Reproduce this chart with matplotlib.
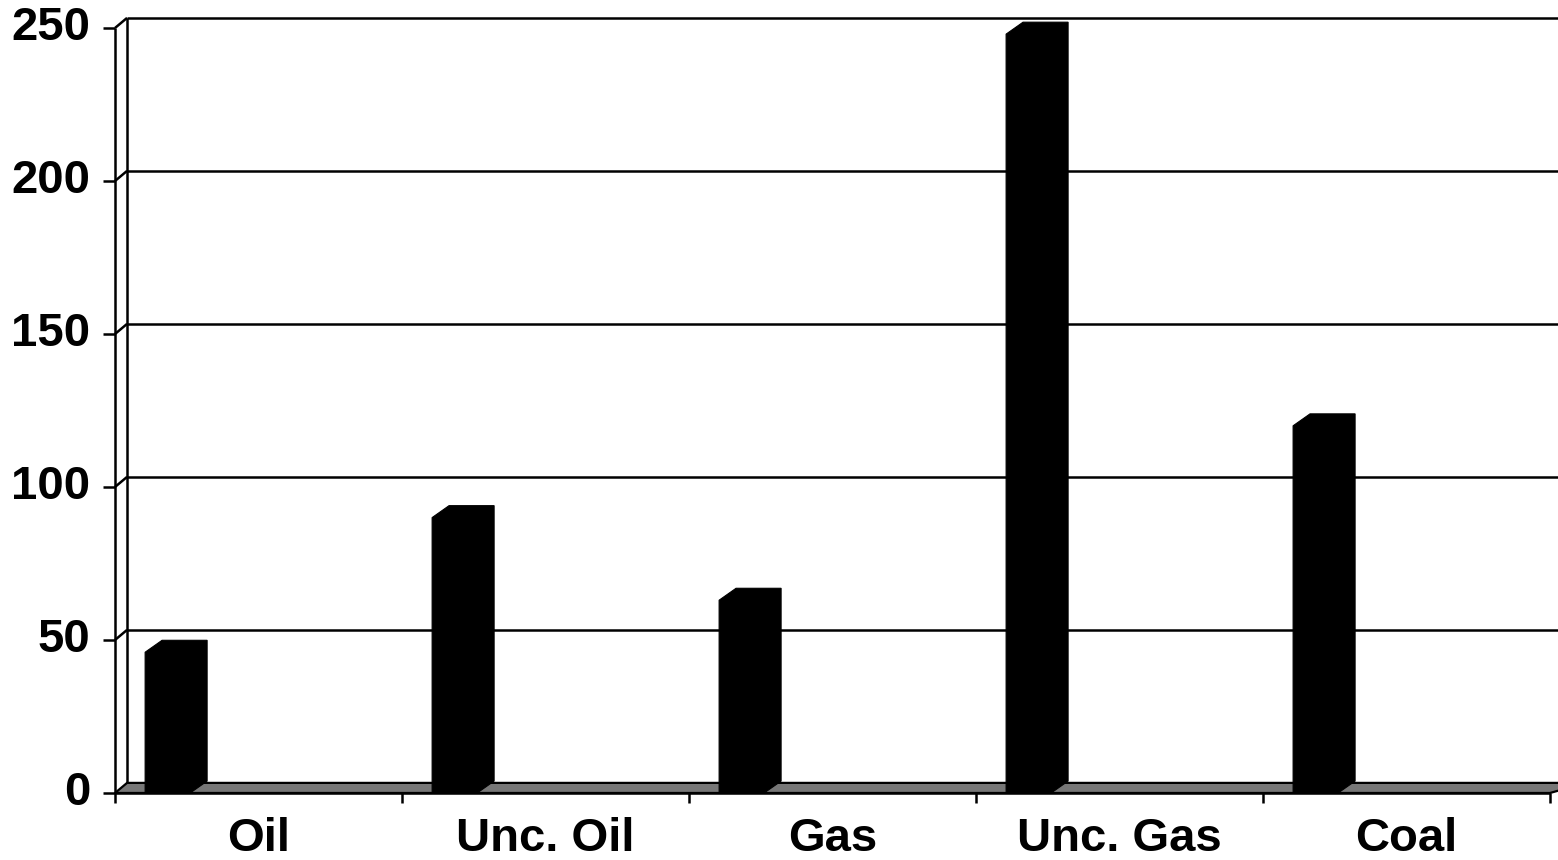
import matplotlib
matplotlib.use('Agg')
import matplotlib.pyplot as plt

categories = ['Oil', 'Unc. Oil', 'Gas', 'Unc. Gas', 'Coal']
values = [46, 90, 63, 248, 120]
yticks = [0, 50, 100, 150, 200, 250]

# 3D look (data units): wall depth and bar depth offsets
wall_dx, wall_dy = 0.042, 3.3
bar_dx, bar_dy = 0.059, 3.9
bar_left, bar_w = 0.105, 0.157

fig = plt.figure(figsize=(15.58, 8.6), dpi=100)
ax = fig.add_axes([0, 0, 1, 1])
ax.set_xlim(-0.4007, 5.028)
ax.set_ylim(-21.9, 259.15)
ax.axis('off')

n = len(categories)
xmax = 5.1
line_kw = dict(color='black', lw=1.8, solid_capstyle='butt')
font_kw = dict(fontsize=34, fontweight='bold', family='Liberation Sans')

# floor
ax.fill([0, n, n + wall_dx * 3, wall_dx],
        [0, 0, wall_dy, wall_dy], facecolor='#777777', edgecolor='black', lw=1.6, zorder=1)

# back wall gridlines + side wall stubs
for v in yticks[1:]:
    ax.plot([0, wall_dx], [v, v + wall_dy], **line_kw, zorder=2)
    ax.plot([wall_dx, xmax], [v + wall_dy, v + wall_dy], **line_kw, zorder=2)
ax.plot([wall_dx, wall_dx], [wall_dy, yticks[-1] + wall_dy], **line_kw, zorder=2)

# front y axis and ticks
ax.plot([0, 0], [0, yticks[-1]], **line_kw, zorder=2)
for v in yticks:
    ax.plot([-0.042, 0], [v, v], **line_kw, zorder=2)
    ax.text(-0.085, v, str(v), ha='right', va='center', **font_kw)

# front x axis and ticks
ax.plot([0, n], [0, 0], **line_kw, zorder=4)
for i in range(n + 1):
    ax.plot([i, i], [0, -3.3], **line_kw, zorder=4)
for i, c in enumerate(categories):
    ax.text(i + 0.5, -15.2, c, ha='center', va='center', **font_kw)

# bars
for i, v in enumerate(values):
    x0 = i + bar_left
    x1 = x0 + bar_w
    xs = [x0, x0, x0 + bar_dx, x1 + bar_dx, x1 + bar_dx, x1]
    ys = [0, v, v + bar_dy, v + bar_dy, bar_dy, 0]
    ax.fill(xs, ys, facecolor='black', edgecolor='black', lw=0.8, zorder=3)

fig.savefig('out.png', dpi=100)
